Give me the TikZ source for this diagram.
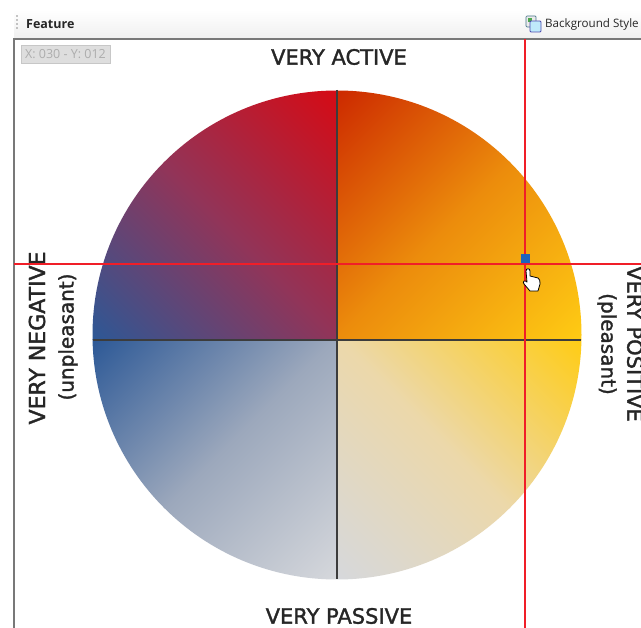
\documentclass[tikz,border=0pt]{standalone}
\usepackage{fontspec}
\setmainfont{DejaVu Sans}
\newfontfamily\uifont{Open Sans}
\newfontfamily\labelfont[FakeBold=1.6]{DejaVu Sans}
\definecolor{cRed}{RGB}{214,10,20}
\definecolor{cRedMid}{RGB}{146,52,88}
\definecolor{cOrangeRed}{RGB}{204,40,0}
\definecolor{cOrangeMid}{RGB}{236,140,12}
\definecolor{cYellow}{RGB}{255,204,20}
\definecolor{cBlue}{RGB}{44,88,150}
\definecolor{cBlueMid}{RGB}{156,168,188}
\definecolor{cGrey}{RGB}{214,216,220}
\definecolor{cBeige}{RGB}{236,216,170}
\definecolor{cFrame}{RGB}{120,120,120}
\definecolor{cAxis}{RGB}{60,60,60}
\definecolor{cLine}{RGB}{240,30,40}
\definecolor{cMark}{RGB}{30,100,190}
\tikzset{
  axisline/.style={draw=cAxis,line width=1.5pt},
  redguide/.style={color=cLine,line width=1.1pt},
  bigtxt/.style={inner sep=0pt,font=\labelfont\fontsize{21}{24}\selectfont,text=black!85},
  subtxt/.style={inner sep=0pt,font=\labelfont\fontsize{20}{24}\selectfont,text=black!85},
  uitxt/.style={inner sep=0pt,anchor=west,font=\uifont\fontsize{11.6}{15}\selectfont,text=black!85},
}
\begin{document}
\begin{tikzpicture}[x=1pt,y=-1pt]
\useasboundingbox (0,0) rectangle (641,628);
\clip (0,0) rectangle (641,628);
\fill[white] (0,0) rectangle (641,628);
% toolbar
\shade[top color=white,bottom color=black!6] (14,10) rectangle (641,38);
\foreach \yy in {16,20,24,28} \fill[black!45] (17,\yy) circle (0.9);
\node[uitxt,font=\uifont\bfseries\fontsize{12.5}{15}\selectfont] (feature) at (26,24) {Feature};
\node[uitxt] (bgstyle) at (545,24) {Background Style};
% icon
\fill[black!8,draw=black!50!cyan,line width=.7pt,rounded corners=1pt] (526,16) rectangle (536,27);
\fill[green!50!black!70] (528,18) rectangle (532,22);
\fill[cyan!25,draw=blue!55!black!70,line width=.8pt,rounded corners=1pt] (530,21) rectangle (541,32);
% frame
\draw[cFrame,line width=1.5pt] (641,39) -- (14,39) -- (14,628);
% wheel
\begin{scope}
\clip (337,335) circle (244.5);
\begin{scope}\clip (337,340) rectangle (90,80);
  \begin{scope}[transform canvas={shift={(215,215)},rotate=-135}]\shade[left color=cRed,right color=cBlue,middle color=cRedMid] (-176,-300) rectangle (176,300);\end{scope}
\end{scope}
\begin{scope}\clip (337,340) rectangle (590,80);
  \begin{scope}[transform canvas={shift={(459,215)},rotate=-45}]\shade[left color=cOrangeRed,right color=cYellow,middle color=cOrangeMid] (-176,-300) rectangle (176,300);\end{scope}
\end{scope}
\begin{scope}\clip (337,340) rectangle (90,590);
  \begin{scope}[transform canvas={shift={(214.5,459.5)},rotate=-45}]\shade[left color=cBlue,right color=cGrey,middle color=cBlueMid] (-172,-300) rectangle (172,300);\end{scope}
\end{scope}
\begin{scope}\clip (337,340) rectangle (590,590);
  \begin{scope}[transform canvas={shift={(459.5,459.5)},rotate=45}]\shade[left color=cGrey,right color=cYellow,middle color=cBeige] (-172,-300) rectangle (172,300);\end{scope}
\end{scope}
\end{scope}
% axes
\coordinate (top) at (337,90);
\coordinate (bottom) at (337,579);
\coordinate (left) at (93,340);
\coordinate (right) at (581,340);
\draw[axisline] (top) -- (bottom);
\draw[axisline] (left) -- (right);
% labels
\node[bigtxt] (active) at (339,57) {VERY ACTIVE};
\node[bigtxt] (passive) at (339,616) {VERY PASSIVE};
\node[bigtxt,rotate=90,font=\labelfont\fontsize{22}{24}\selectfont] (negative) at (37,338) {VERY NEGATIVE};
\node[subtxt,rotate=90] (unpleasant) at (68,337) {(unpleasant)};
\node[bigtxt,rotate=-90] (positive) at (635,344) {VERY POSITIVE};
\node[subtxt,rotate=-90] (pleasant) at (607,344) {(pleasant)};
% guides
\coordinate (vtop) at (525,39);
\coordinate (vbot) at (525,628);
\coordinate (hleft) at (14,264);
\coordinate (hright) at (641,264);
\draw[redguide] (vtop) -- (vbot);
\draw[redguide] (hleft) -- (hright);
\fill[cMark] (521,254) rectangle (530,263);
% hand cursor
\draw[fill=white,draw=black,line width=.8pt,line join=round]
 (526,271) .. controls (526,268) and (530,268) .. (530,271) -- (530,276)
 -- (538,278) .. controls (540,279) and (540,281) .. (540,284) -- (538,291)
 -- (530,291) -- (524,284) .. controls (522,281) and (525,280) .. (527,282) -- cycle;
% readout
\node[draw=black!22,fill=black!13,line width=.8pt,minimum width=89pt,minimum height=18pt,inner sep=0pt,text=black!32,font=\uifont\fontsize{12.5}{14}\selectfont] (readout) at (65.5,54) {X: 030 - Y: 012};
\end{tikzpicture}
\end{document}
